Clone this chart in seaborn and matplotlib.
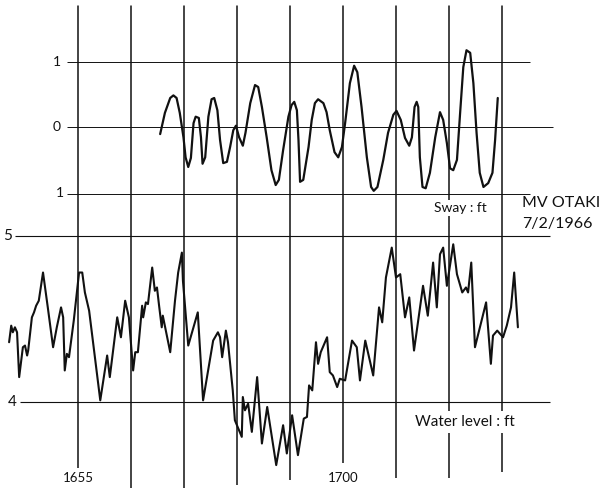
import matplotlib
matplotlib.use("Agg")
import matplotlib.pyplot as plt
import numpy as np
import pandas as pd
import seaborn as sns

# time in minutes after 16:00
sway_time = [56.55, 56.64, 56.74, 56.80, 56.86, 56.92, 56.99, 57.03, 57.08, 57.13,
             57.18, 57.22, 57.28, 57.32, 57.35, 57.40, 57.46, 57.52, 57.57, 57.63,
             57.68, 57.74, 57.81, 57.87, 57.93, 57.98, 58.04, 58.11, 58.16, 58.25,
             58.34, 58.40, 58.47, 58.56, 58.65, 58.73, 58.79, 58.87, 58.97, 59.03,
             59.08, 59.13, 59.16, 59.19, 59.25, 59.35, 59.41, 59.47, 59.53, 59.63,
             59.69, 59.75, 59.84, 59.91, 59.98, 60.04, 60.13, 60.21, 60.27, 60.35,
             60.45, 60.53, 60.58, 60.65, 60.76, 60.85, 60.95, 61.01, 61.09, 61.17,
             61.25, 61.30, 61.35, 61.39, 61.42, 61.45, 61.50, 61.56, 61.64, 61.74,
             61.83, 61.89, 61.96, 62.02, 62.08, 62.15, 62.21, 62.27, 62.33, 62.40,
             62.46, 62.52, 62.58, 62.65, 62.74, 62.82, 62.87, 62.92]
sway_ft = [-0.11, 0.22, 0.45, 0.49, 0.45, 0.22, -0.16, -0.47, -0.62, -0.48,
           0.06, 0.16, 0.14, -0.16, -0.57, -0.47, 0.16, 0.43, 0.45, 0.26,
           -0.20, -0.56, -0.54, -0.31, -0.05, 0.02, -0.16, -0.29, -0.09, 0.37,
           0.65, 0.62, 0.31, -0.16, -0.67, -0.90, -0.82, -0.36, 0.16, 0.34,
           0.39, 0.26, -0.20, -0.85, -0.82, -0.31, 0.11, 0.37, 0.43, 0.37,
           0.23, -0.05, -0.39, -0.47, -0.31, 0.06, 0.68, 0.95, 0.85, 0.31,
           -0.47, -0.93, -0.99, -0.93, -0.51, -0.09, 0.19, 0.25, 0.11, -0.17,
           -0.29, -0.16, 0.31, 0.39, 0.31, -0.47, -0.93, -0.95, -0.71, -0.16,
           0.23, 0.11, -0.25, -0.64, -0.67, -0.51, 0.22, 0.93, 1.19, 1.15,
           0.68, -0.09, -0.71, -0.93, -0.87, -0.71, -0.20, 0.45]

water_time = [53.70, 53.74, 53.77, 53.81, 53.85, 53.89, 53.96, 54.00, 54.04, 54.06,
              54.13, 54.17, 54.21, 54.26, 54.34, 54.43, 54.53, 54.60, 54.68, 54.72,
              54.75, 54.79, 54.83, 54.92, 55.02, 55.08, 55.13, 55.21, 55.42, 55.55,
              55.60, 55.74, 55.81, 55.89, 55.96, 56.04, 56.08, 56.13, 56.21, 56.23,
              56.28, 56.32, 56.40, 56.45, 56.49, 56.53, 56.58, 56.60, 56.74, 56.83,
              56.89, 56.96, 56.98, 57.08, 57.26, 57.36, 57.55, 57.64, 57.68, 57.72,
              57.79, 57.83, 57.92, 57.96, 58.09, 58.11, 58.15, 58.21, 58.28, 58.38,
              58.47, 58.57, 58.74, 58.87, 58.94, 59.04, 59.15, 59.26, 59.32, 59.36,
              59.42, 59.49, 59.53, 59.58, 59.70, 59.75, 59.81, 59.89, 59.94, 60.04,
              60.17, 60.26, 60.32, 60.42, 60.57, 60.68, 60.74, 60.81, 60.92, 61.00,
              61.08, 61.17, 61.25, 61.34, 61.51, 61.60, 61.70, 61.77, 61.83, 61.89,
              61.96, 62.08, 62.15, 62.25, 62.32, 62.36, 62.42, 62.49, 62.70, 62.79,
              62.83, 62.91, 63.02, 63.09, 63.17, 63.23, 63.30]
water_ft = [4.36, 4.46, 4.42, 4.45, 4.42, 4.15, 4.33, 4.34, 4.28, 4.31,
            4.51, 4.54, 4.58, 4.61, 4.78, 4.57, 4.33, 4.45, 4.57, 4.51,
            4.19, 4.29, 4.27, 4.49, 4.78, 4.78, 4.66, 4.55, 4.01, 4.28,
            4.15, 4.51, 4.39, 4.61, 4.51, 4.19, 4.30, 4.30, 4.58, 4.51,
            4.60, 4.59, 4.81, 4.67, 4.69, 4.58, 4.45, 4.52, 4.30, 4.61,
            4.78, 4.90, 4.73, 4.34, 4.54, 4.01, 4.37, 4.42, 4.39, 4.27,
            4.43, 4.36, 4.07, 3.89, 3.79, 4.03, 3.95, 3.99, 3.82, 4.15,
            3.75, 3.97, 3.62, 3.86, 3.69, 3.92, 3.68, 3.90, 3.91, 4.10,
            4.07, 4.36, 4.23, 4.30, 4.39, 4.18, 4.16, 4.09, 4.14, 4.13,
            4.37, 4.33, 4.13, 4.37, 4.16, 4.57, 4.48, 4.75, 4.93, 4.75,
            4.77, 4.51, 4.63, 4.31, 4.70, 4.52, 4.84, 4.57, 4.89, 4.93,
            4.70, 4.95, 4.77, 4.66, 4.69, 4.66, 4.84, 4.33, 4.60, 4.23,
            4.40, 4.43, 4.39, 4.46, 4.57, 4.78, 4.45]

minute_lines = [55, 56, 57, 58, 59, 60, 61, 62, 63]
sway_ticks = [1, 0, -1]
sway_tick_labels = ["1", "0", "1"]
water_ticks = [5, 4]
water_tick_labels = ["5", "4"]
time_labels = {55: "1655", 60: "1700"}

sway_df = pd.DataFrame({"time": sway_time, "sway": sway_ft})
water_df = pd.DataFrame({"time": water_time, "level": water_ft})

sns.set_style("white")
plt.rcParams["font.family"] = ["Lato", "DejaVu Sans"]

W, H = 599, 488
fig = plt.figure(figsize=(W / 100, H / 100), dpi=100)
split = 215 / H
ax_top = fig.add_axes([0, 1 - split, 1, split])
ax_bot = fig.add_axes([0, 0, 1, 1 - split])

xlim = (55 - 78 / 53, 55 + 521 / 53)
for ax in (ax_top, ax_bot):
    ax.set_xlim(*xlim)
    ax.axis("off")
ax_top.set_ylim(-(215 - 127) / 64.5, 127 / 64.5)
ax_bot.set_ylim(5 - 252 / 166, 5 + 21 / 166)

ink = "#111111"

# gridlines
for m in minute_lines:
    ax_top.axvline(m, ymin=0, ymax=0.972, color=ink, lw=1.1)
vline_bottom = {55: 3.60, 56: 3.48, 57: 3.48, 58: 3.50, 59: 3.53, 60: 3.63,
                61: 3.54, 62: 3.54, 63: 3.58}
for m in minute_lines:
    ax_bot.vlines(m, vline_bottom[m], 5.2, color=ink, lw=1.1)

ax_top.hlines([1, -1.04], 54.79, 63.53, color=ink, lw=0.7)
ax_top.hlines(0, 54.79, 63.96, color=ink, lw=0.7)
ax_bot.hlines(water_ticks, [53.81, 53.91], 63.91, color=ink, lw=0.8)

sns.lineplot(data=sway_df, x="time", y="sway", ax=ax_top, color=ink,
             lw=1.6, sort=False, estimator=None,
             solid_joinstyle="round", solid_capstyle="round")
sns.lineplot(data=water_df, x="time", y="level", ax=ax_bot, color=ink,
             lw=1.5, sort=False, estimator=None)

# axis labels
for v, lab, xp in zip(sway_ticks, sway_tick_labels, [54.60, 54.60, 54.66]):
    ax_top.text(xp, v if v != -1 else -1.03, lab, ha="center", va="center",
                fontsize=10, color=ink)
for v, lab, xp in zip(water_ticks, water_tick_labels, [53.68, 53.75]):
    ax_bot.text(xp, v, lab, ha="center", va="center", fontsize=11, color=ink)
for m, lab in time_labels.items():
    ax_bot.text(m, 3.545, lab, ha="center", va="center", fontsize=9.5, color=ink)

fig.text(460 / W, 1 - 208 / H, "Sway : ft", ha="center", va="center",
         fontsize=10, color=ink,
         bbox=dict(facecolor="white", edgecolor="none", pad=1.5))
fig.text(522 / W, 1 - 203 / H, "MV OTAKI", ha="left", va="center",
         fontsize=11.5, color=ink)
fig.text(522 / W, 1 - 224 / H, "7/2/1966", ha="left", va="center",
         fontsize=11.5, color=ink)
fig.text(465 / W, 1 - 422 / H, "Water level : ft", ha="center", va="center",
         fontsize=11, color=ink,
         bbox=dict(facecolor="white", edgecolor="none", pad=3))

fig.savefig("out.png", dpi=100, facecolor="white")
